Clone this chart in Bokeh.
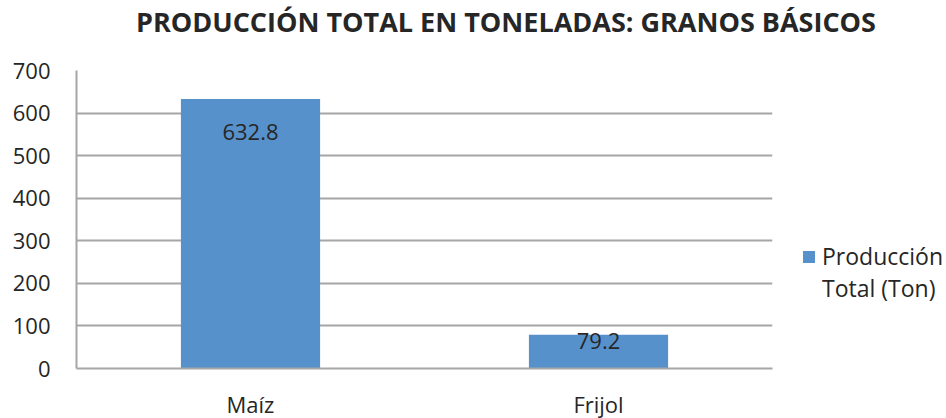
from bokeh.plotting import figure
from bokeh.models import ColumnDataSource, Legend, LegendItem, Div, Range1d
from bokeh.layouts import column
from bokeh.core.properties import value
from bokeh.embed import file_html
from bokeh.resources import INLINE

categories = ["Maíz", "Frijol"]
production = [632.8, 79.2]
value_labels = ["632.8", "79.2"]
label_offsets = [33, 6]
y_ticks = [0, 100, 200, 300, 400, 500, 600, 700]
title_text = "PRODUCCIÓN TOTAL EN TONELADAS: GRANOS BÁSICOS"
legend_lines = ["Producción", "Total (Ton)"]

FONT = "Open Sans"
BAR = "#5791CB"
GRID = "#A6A6A6"
TXT = "#262626"

src = ColumnDataSource(dict(cat=categories, val=production, lab=value_labels, off=label_offsets))

p = figure(x_range=categories, y_range=Range1d(0, 700),
           width=930, height=372, frame_width=696, frame_height=298,
           min_border_left=76, min_border_right=158, min_border_top=26, min_border_bottom=40,
           output_backend="svg", toolbar_location=None, title=None)
p.outline_line_color = None
p.background_fill_color = "white"
p.border_fill_color = "white"

r = p.vbar(x="cat", top="val", width=0.4, source=src, fill_color=BAR, line_color=None)

p.text(x="cat", y="val", text="lab", y_offset="off", source=src,
       text_align="center", text_baseline="middle", text_color=TXT,
       text_font=value(FONT), text_font_size="22px")

for ax in (p.xaxis, p.yaxis):
    ax.axis_line_color = GRID
    ax.axis_line_width = 2
    ax.major_tick_line_color = None
    ax.minor_tick_line_color = None
    ax.major_tick_out = 0
    ax.minor_tick_out = 0
    ax.major_label_text_font = FONT
    ax.major_label_text_font_size = "22px"
    ax.major_label_text_color = TXT

p.yaxis.ticker = y_ticks
p.yaxis.major_label_standoff = 26
p.xaxis.major_label_standoff = 20

p.xgrid.grid_line_color = None
p.ygrid.grid_line_color = GRID
p.ygrid.grid_line_width = 2

legend = Legend(items=[LegendItem(label=legend_lines[0], renderers=[r]),
                       LegendItem(label=legend_lines[1], renderers=[])],
                location=(29, 64), border_line_color=None, background_fill_alpha=0,
                label_text_font=FONT, label_text_font_size="23px", label_text_color=TXT,
                glyph_width=15, glyph_height=15, padding=0, margin=0, label_standoff=6,
                spacing=0)
p.add_layout(legend, "right")

title = Div(text=f'<div style="padding-left:131px;text-align:left;white-space:nowrap;'
                 f'font-family:\'{FONT}\';font-weight:bold;font-size:27px;line-height:34px;'
                 f'color:{TXT}">{title_text}</div>',
            width=930, height=34)

layout = column(title, p, spacing=0)

open("out.html", "w").write(file_html(layout, INLINE))
